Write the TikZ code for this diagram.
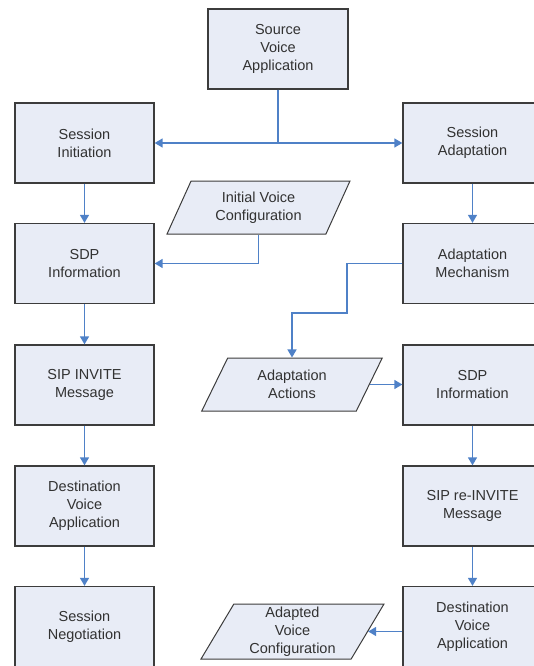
\documentclass[tikz,border=0pt]{standalone}
\usepackage{fontspec}
\setmainfont{Liberation Sans}
\usetikzlibrary{shapes.geometric,arrows.meta}
\definecolor{boxfill}{RGB}{232,236,246}
\definecolor{boxline}{RGB}{60,60,60}
\definecolor{arrowblue}{RGB}{79,129,199}
\definecolor{txt}{RGB}{50,50,50}
\begin{document}
\begin{tikzpicture}[x=1pt,y=-1pt,
  box/.style={rectangle,draw=boxline,fill=boxfill,line width=1.3pt,
    minimum width=139pt,minimum height=80pt,inner sep=2pt,align=center,
    text=txt,font=\fontsize{14.5pt}{18pt}\selectfont},
  para/.style={trapezium,trapezium left angle=64,trapezium right angle=116,
    trapezium stretches=true,draw=boxline,fill=boxfill,line width=1pt,
    minimum width=183pt,minimum height=53pt,inner sep=0pt,align=center,
    text=txt,font=\fontsize{14.5pt}{18pt}\selectfont},
  conn/.style={draw=arrowblue,line width=1.4pt,-{Triangle[length=8pt,width=9pt]}}]
\useasboundingbox (0,0) rectangle (534,666);
% left column
\node[box,minimum width=140pt] (src) at (278,49) {Source\\Voice\\Application};
\node[box] (si)   at (84.5,143)   {Session\\Initiation};
\node[box] (sdpL) at (84.5,263.5) {SDP\\Information};
\node[box] (sip)  at (84.5,385)   {SIP INVITE\\Message};
\node[box] (dstL) at (84.5,506)   {Destination\\Voice\\Application};
\node[box] (neg)  at (84.5,626.5) {Session\\Negotiation};
% right column
\node[box] (sa)   at (472.5,143)   {Session\\Adaptation};
\node[box] (am)   at (472.5,263.5) {Adaptation\\Mechanism};
\node[box] (sdpR) at (472.5,385)   {SDP\\Information};
\node[box] (rei)  at (472.5,506)   {SIP re-INVITE\\Message};
\node[box] (dstR) at (472.5,626.5) {Destination\\Voice\\Application};
% data
\node[para] (ivc) at (258.5,207.5) {Initial Voice\\Configuration};
\node[para,minimum width=182pt] (aa) at (292,384.5) {Adaptation\\Actions};
\node[para,minimum height=55pt] (avc) at (292.5,631.5) {Adapted\\Voice\\Configuration};
% connectors
\path[conn] (src.south) |- (si.east);
\path[conn] (src.south) |- (sa.west);
\path[conn] (si) -- (sdpL);
\path[conn] (sdpL) -- (sip);
\path[conn] (sip) -- (dstL);
\path[conn] (dstL) -- (neg);
\path[conn] (ivc.south) |- (sdpL.east);
\path[conn] (sa) -- (am);
\coordinate (k1) at (347,313);
\path[conn] (am.west) -| (k1) -| (aa.north);
\path[conn] (aa.east) -- (aa.east -| sdpR.west);
\path[conn] (sdpR) -- (rei);
\path[conn] (rei) -- (dstR);
\path[conn] (avc.east -| dstR.west) -- (avc.east);
\end{tikzpicture}
\end{document}
